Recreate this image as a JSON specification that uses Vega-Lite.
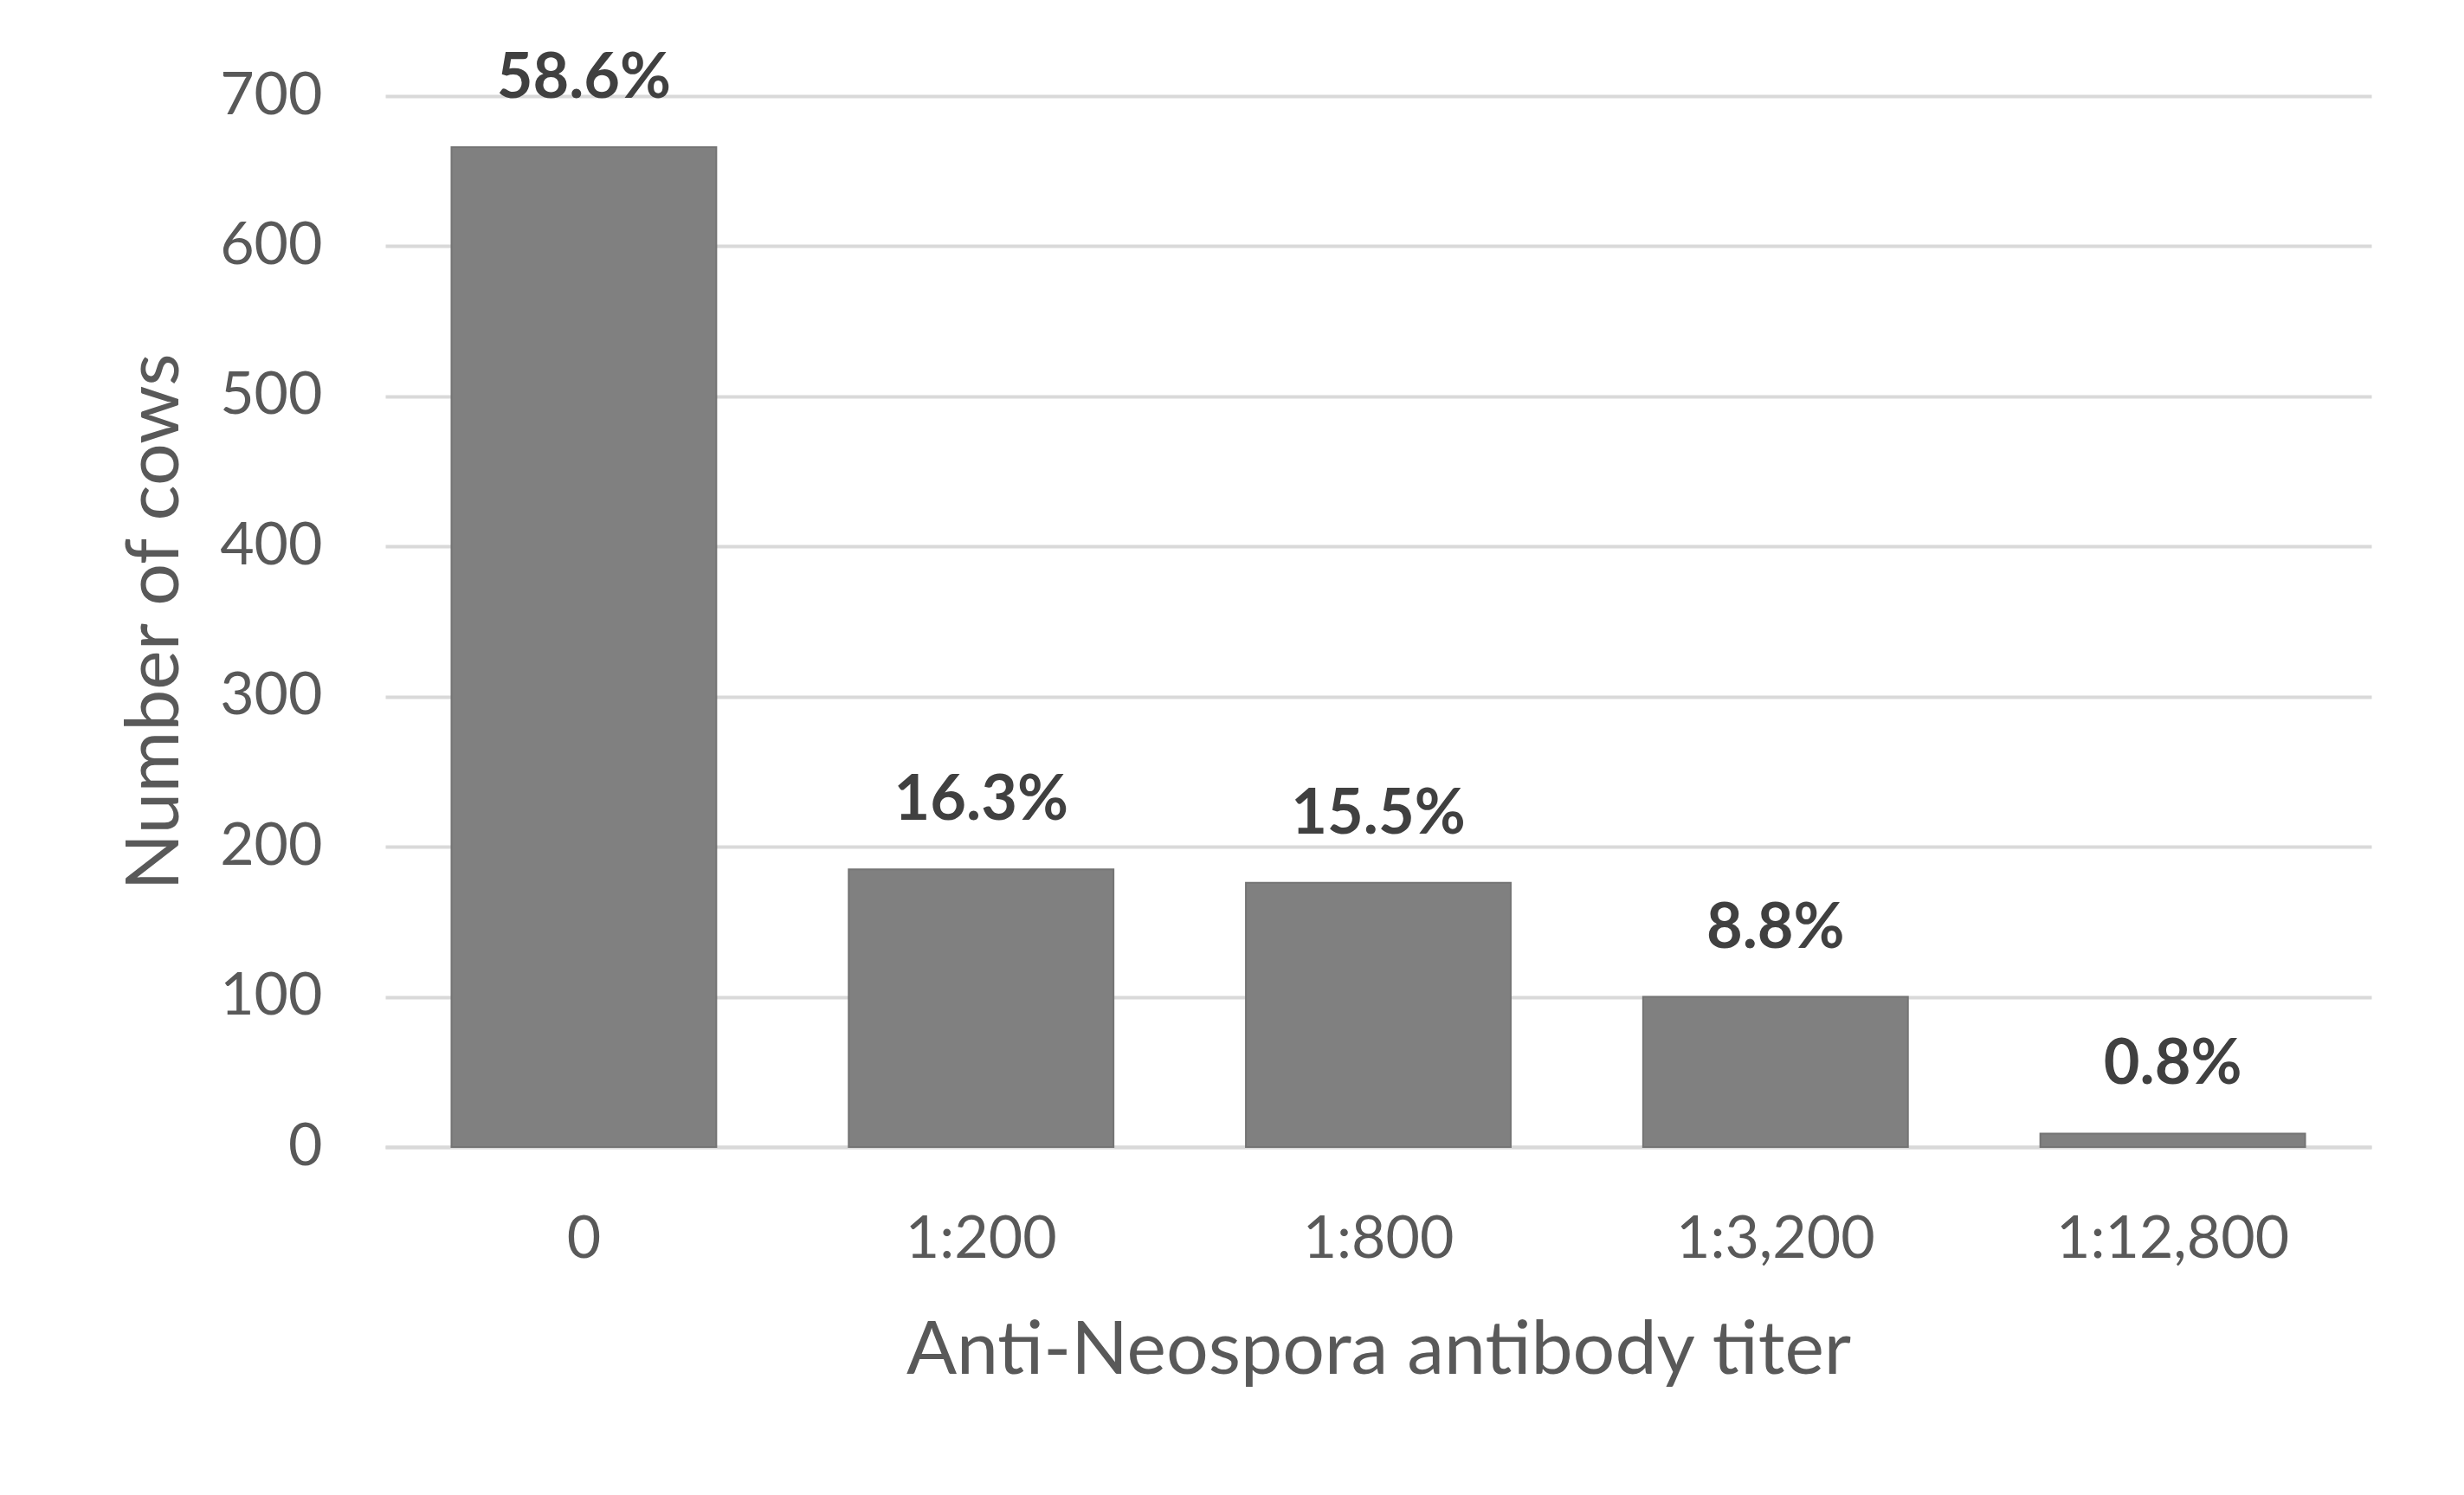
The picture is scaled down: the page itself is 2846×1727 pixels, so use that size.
{
  "$schema": "https://vega.github.io/schema/vega-lite/v6.json",
  "width": 2294,
  "height": 1214,
  "autosize": {"type": "none"},
  "padding": {"left": 445, "top": 111, "right": 107, "bottom": 402},
  "background": "white",
  "config": {
    "view": {"stroke": null},
    "font": "Lato",
    "axis": {"labelFont": "Lato", "titleFont": "Lato", "labelColor": "#595959", "titleColor": "#595959", "titleFontWeight": "normal", "labelLimit": 0}
  },
  "data": {
    "values": [
      {"titer": "0", "cows": 666, "pct": "58.6%"},
      {"titer": "1:200", "cows": 185, "pct": "16.3%"},
      {"titer": "1:800", "cows": 176, "pct": "15.5%"},
      {"titer": "1:3,200", "cows": 100, "pct": "8.8%"},
      {"titer": "1:12,800", "cows": 9, "pct": "0.8%"}
    ]
  },
  "encoding": {
    "x": {
      "field": "titer", "type": "nominal", "sort": null,
      "scale": {"paddingInner": 0.3333, "paddingOuter": 0.1667},
      "axis": {
        "title": "Anti-Neospora antibody titer",
        "labelAngle": 0, "labelFontSize": 68, "labelPadding": 73, "labelBaseline": "top", "labelLimit": 0,
        "ticks": false, "domain": true, "domainColor": "#d9d9d9", "domainWidth": 4,
        "titleFontSize": 86, "titlePadding": 52, "grid": false
      }
    },
    "y": {
      "field": "cows", "type": "quantitative",
      "scale": {"domain": [0, 700], "nice": false},
      "axis": {
        "title": "Number of cows",
        "values": [0, 100, 200, 300, 400, 500, 600, 700],
        "labelFontSize": 68, "labelPadding": 73,
        "ticks": false, "domain": false,
        "grid": true, "gridColor": "#d9d9d9", "gridWidth": 4,
        "titleFontSize": 86, "titlePadding": 30
      }
    }
  },
  "layer": [
    {"mark": {"type": "bar", "color": "#808080", "stroke": "#747474", "strokeWidth": 2}},
    {
      "mark": {"type": "text", "font": "Lato", "fontWeight": "bold", "fontSize": 72, "color": "#404040", "baseline": "alphabetic", "dy": -57},
      "encoding": {"text": {"field": "pct"}}
    }
  ]
}
